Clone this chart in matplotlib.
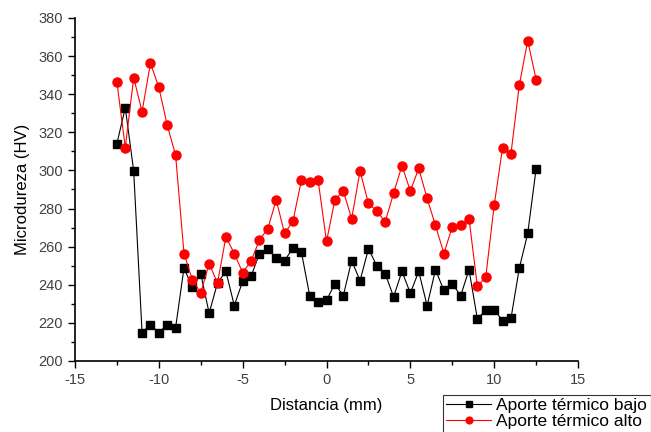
import matplotlib
matplotlib.use("Agg")
import matplotlib.pyplot as plt
from matplotlib.ticker import MultipleLocator

plt.rcParams['font.family'] = ['Liberation Sans', 'DejaVu Sans']
plt.rcParams['axes.unicode_minus'] = False

distancia = [-12.5 + 0.5 * i for i in range(51)]

bajo = [314.1, 332.9, 299.7, 214.9, 219.1, 214.9, 219.1, 217.5, 248.8, 238.6,
        245.8, 225.1, 241.0, 247.0, 229.1, 241.8, 244.4, 256.4, 258.8, 253.9,
        252.7, 259.3, 257.2, 234.2, 230.7, 231.8, 240.6, 234.2, 252.7, 242.1,
        258.8, 250.0, 245.8, 233.7, 247.0, 235.6, 247.0, 229.0, 247.9, 237.0,
        240.6, 234.2, 247.9, 221.9, 226.9, 226.9, 221.1, 222.3, 248.8, 266.9,
        300.8]

alto = [346.3, 312.0, 348.7, 330.8, 356.3, 343.6, 323.8, 308.0, 256.4, 242.7,
        235.6, 251.1, 240.9, 265.1, 256.4, 246.3, 252.5, 263.4, 269.5, 284.5,
        266.9, 273.4, 294.8, 293.9, 294.8, 262.7, 284.5, 289.2, 274.6, 299.7,
        282.7, 278.7, 273.0, 288.0, 302.5, 289.2, 301.1, 285.3, 271.1, 256.4,
        270.4, 271.3, 274.6, 239.1, 244.2, 281.7, 311.9, 308.7, 344.9, 368.1,
        347.7]

fig = plt.figure(figsize=(6.51, 4.32), dpi=100)
ax = fig.add_axes([0.1152, 0.1644, 0.7727, 0.794])

l1, = ax.plot(distancia, bajo, color='black', lw=0.8, marker='s', ms=6,
              label='Aporte térmico bajo')
l2, = ax.plot(distancia, alto, color='red', lw=0.8, marker='o', ms=6.5,
              label='Aporte térmico alto')

ax.set_xlim(-15, 15)
ax.set_ylim(200, 380)
ax.xaxis.set_major_locator(MultipleLocator(5))
ax.xaxis.set_minor_locator(MultipleLocator(2.5))
ax.yaxis.set_major_locator(MultipleLocator(20))
ax.yaxis.set_minor_locator(MultipleLocator(10))
ax.tick_params(which='major', direction='out', length=5, width=1,
               labelsize=10.5, labelcolor='#404040')
ax.tick_params(which='minor', direction='out', length=3, width=1)
ax.spines['top'].set_visible(False)
ax.spines['right'].set_visible(False)
for s in ('left', 'bottom'):
    ax.spines[s].set_linewidth(1.2)

ax.set_xlabel('Distancia (mm)', fontsize=12, labelpad=8)
ax.set_ylabel('Microdureza (HV)', fontsize=12, labelpad=6)

leg = fig.legend(handles=[l1, l2], loc='upper left',
                 bbox_to_anchor=(434 / 651, 1 - 386 / 432),
                 fontsize=12.5, frameon=True, fancybox=False,
                 borderpad=0.2, labelspacing=0.05, handlelength=2.6,
                 handletextpad=0.3, markerscale=0.75)
leg.get_frame().set_edgecolor('black')
leg.get_frame().set_linewidth(0.8)

fig.savefig('out.png', dpi=100)
